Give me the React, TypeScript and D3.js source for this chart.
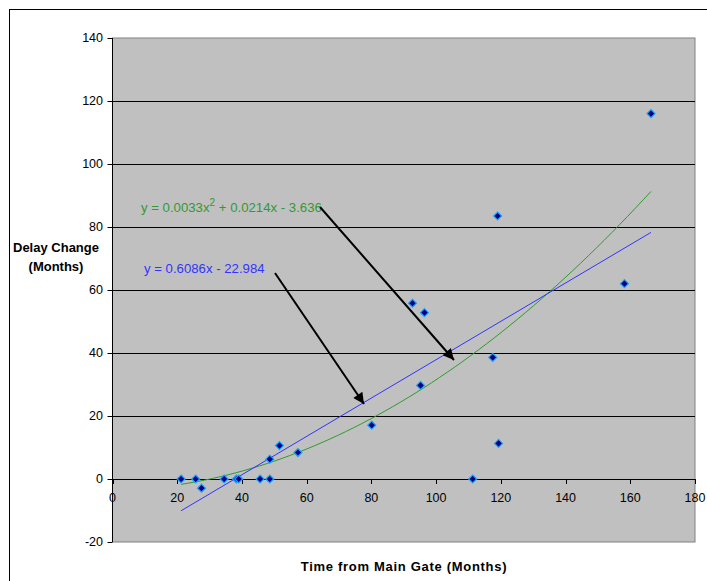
import React from "react";
import * as d3 from "d3";

const xValues = [21.2, 25.7, 27.5, 34.5, 38.3, 39.0, 45.6, 48.6, 48.6, 51.6, 57.3, 80.1, 92.7, 95.2, 96.4, 111.3, 117.5, 119.0, 119.3, 158.2, 166.4];
const yValues = [0, 0, -2.9, 0, 0, 0, 0, 0, 6.3, 10.6, 8.4, 17.1, 55.8, 29.7, 52.8, 0, 38.6, 83.5, 11.3, 62.0, 116.0];
const xTicks = [0, 20, 40, 60, 80, 100, 120, 140, 160, 180];
const yTicks = [-20, 0, 20, 40, 60, 80, 100, 120, 140];
const linearCoef = [0.6086, -22.984];
const polyCoef = [0.0033, 0.0214, -3.636];

export default function App() {
  const left = 112.5, right = 695, top = 38, bottom = 542;
  const x = d3.scaleLinear().domain([0, 180]).range([left, right]);
  const y = d3.scaleLinear().domain([-20, 140]).range([bottom, top]);
  const xmin = d3.min(xValues)!, xmax = d3.max(xValues)!;
  const samples = d3.range(0, 61).map((i) => xmin + ((xmax - xmin) * i) / 60);
  const line = d3.line<[number, number]>().x((d) => x(d[0])).y((d) => y(d[1]));
  const linPts: [number, number][] = [xmin, xmax].map((v) => [v, linearCoef[0] * v + linearCoef[1]]);
  const polyPts: [number, number][] = samples.map((v) => [v, polyCoef[0] * v * v + polyCoef[1] * v + polyCoef[2]]);
  const font = "'Liberation Sans', Arial, sans-serif";

  return (
    <svg width={707} height={581} style={{ position: "absolute", left: 0, top: 0, background: "#fff" }} fontFamily={font}>
      <defs>
        <marker id="ah" viewBox="0 0 10 10" refX="10" refY="5" markerWidth="15" markerHeight="11" markerUnits="userSpaceOnUse" orient="auto">
          <path d="M0,0 L10,5 L0,10 Z" fill="#000" />
        </marker>
      </defs>
      <rect x={9.5} y={9.5} width={720} height={620} fill="#fff" stroke="#000" strokeWidth={1} />
      <rect x={left} y={top} width={right - left} height={bottom - top} fill="#C0C0C0" stroke="#808080" strokeWidth={1} />
      {yTicks.filter((t) => t !== -20 && t !== 140).map((t) => (
        <line key={"g" + t} x1={left} x2={right} y1={Math.round(y(t)) + 0.5} y2={Math.round(y(t)) + 0.5} stroke="#000" strokeWidth={1} />
      ))}
      <line x1={left} x2={left} y1={top} y2={bottom} stroke="#000" />
      {yTicks.map((t) => (
        <g key={"y" + t}>
          <line x1={left - 5} x2={left} y1={Math.round(y(t)) + 0.5} y2={Math.round(y(t)) + 0.5} stroke="#000" />
          <text x={left - 9.5} y={y(t)} dy="0.35em" textAnchor="end" fontSize={12.5}>{t}</text>
        </g>
      ))}
      {xTicks.map((t) => (
        <g key={"x" + t}>
          <line x1={Math.round(x(t)) + 0.5} x2={Math.round(x(t)) + 0.5} y1={y(0)} y2={y(0) + 5} stroke="#000" />
          <text x={x(t)} y={y(0) + 23} textAnchor="middle" fontSize={12.5}>{t}</text>
        </g>
      ))}
      <path d={line(polyPts)!} fill="none" stroke="#2E9B2E" strokeWidth={1} />
      <path d={line(linPts)!} fill="none" stroke="#3333FF" strokeWidth={1} />
      {xValues.map((v, i) => (
        <path key={"p" + i} transform={`translate(${x(v)},${y(yValues[i])})`} d="M0,-4 L4,0 L0,4 L-4,0 Z" fill="#000080" stroke="#1AA3FF" strokeWidth={1.2} />
      ))}
      <text x={141} y={212} fontSize={13.2} fill="#339933">
        y = 0.0033x<tspan dy={-6} fontSize={10}>2</tspan><tspan dy={6}> + 0.0214x - 3.636</tspan>
      </text>
      <text x={144} y={273} fontSize={13.2} fill="#3333FF">y = 0.6086x - 22.984</text>
      <line x1={320} y1={207} x2={454} y2={360} stroke="#000" strokeWidth={2} markerEnd="url(#ah)" />
      <line x1={275} y1={273} x2={364} y2={404} stroke="#000" strokeWidth={2} markerEnd="url(#ah)" />
      <text x={56} y={252} textAnchor="middle" fontSize={13} fontWeight="bold">Delay Change</text>
      <text x={56} y={271} textAnchor="middle" fontSize={13} fontWeight="bold">(Months)</text>
      <text x={404} y={571} textAnchor="middle" fontSize={13} fontWeight="bold" letterSpacing={0.7}>Time from Main Gate (Months)</text>
    </svg>
  );
}
